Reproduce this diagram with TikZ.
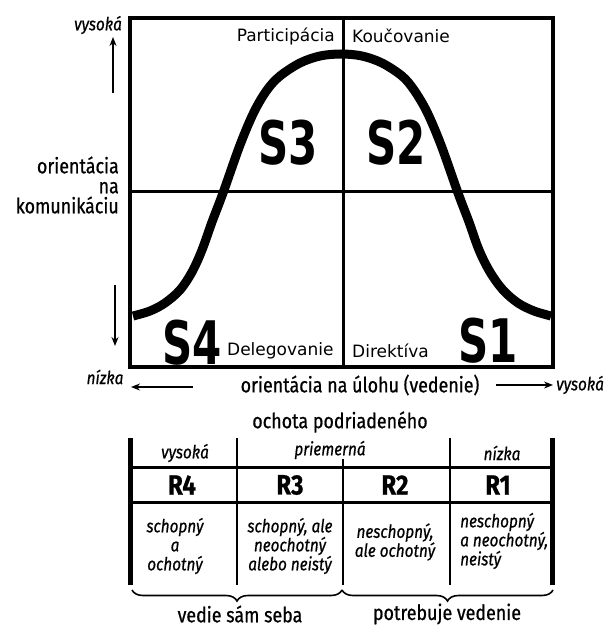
\documentclass[tikz,border=0pt]{standalone}
\usepackage{fontspec}
\setmainfont{Fira Sans}
\newfontfamily\lblfont[FakeStretch=0.85, FakeBold=0.7]{Fira Sans}
\newfontfamily\quadfont{DejaVu Sans}
\newfontfamily\sitfont[FakeStretch=0.7]{DejaVu Sans}
\usetikzlibrary{arrows.meta,positioning,decorations.pathreplacing}

\begin{document}
\begin{tikzpicture}[
    x=1pt, y=-1pt,
    axis/.style={font=\lblfont\fontsize{21}{20}\selectfont, inner sep=1pt},
    smalllbl/.style={font=\lblfont\itshape\fontsize{18}{19}\selectfont, inner sep=1pt},
    quad/.style={font=\quadfont\fontsize{17}{18}\selectfont, inner sep=1pt},
    sit/.style={font=\sitfont\bfseries\fontsize{60}{60}\selectfont, inner sep=0pt},
    rlbl/.style={font=\lblfont\bfseries\fontsize{28}{28}\selectfont, inner sep=0pt},
    desc/.style={font=\lblfont\itshape\fontsize{18}{19}\selectfont, align=center, inner sep=0pt},
    axarrow/.style={line width=1.4pt, -{Stealth[length=9pt,width=7pt]}},
    brc/.style={line width=1.6pt, decorate, decoration={brace, mirror, amplitude=11pt}},
    >=Stealth
]
    \useasboundingbox (0,0) rectangle (611,628);

    % quadrant grid
    \draw[line width=4pt] (130,18) rectangle (553,367);
    \draw[line width=3pt] (343,18) -- (343,367);
    \draw[line width=3pt] (130,192) -- (553,192);

    % bell curve
    \draw[line width=9pt, line join=round] plot[smooth, tension=0.55] coordinates {
        (133,316) (150,311) (165,303) (180,290) (192,272) (202,250) (212,222)
        (223,193) (240,145) (254,112) (267,90) (280,76) (300,63) (320,56) (341,54)
        (362,56) (382,63) (402,76) (414,90) (427,112) (441,145) (458,193)
        (469,222) (479,250) (490,272) (503,290) (518,303) (534,311) (551,316)};

    % styles in quadrants
    \node[sit] (s3) at (288,143) {S3};
    \node[sit] (s2) at (396,143) {S2};
    \node[sit] (s4) at (192,343) {S4};
    \node[sit] (s1) at (488,341) {S1};
    \node[quad, anchor=east] (part) at (336,36) {Participácia};
    \node[quad, anchor=west] (kouc) at (351,36) {Koučovanie};
    \node[quad, anchor=west] (deleg) at (226,351) {Delegovanie};
    \node[quad, anchor=west] (direk) at (351,351) {Direktíva};

    % axes
    \node[smalllbl] (yhi) at (98,25) {vysoká};
    \node[axis, align=right, anchor=east] (ylbl) at (120,185) {orientácia\\na\\komunikáciu};
    \node[smalllbl] (ylo) at (105,377) {nízka};
    \node[axis] (xlbl) at (360,385) {orientácia na úlohu (vedenie)};
    \node[smalllbl, anchor=west] (xhi) at (555,385) {vysoká};
    \coordinate (upa) at (113,93);
    \coordinate (upb) at (113,37);
    \coordinate (dna) at (115,285);
    \coordinate (dnb) at (115,346);
    \coordinate (lfa) at (193,387);
    \coordinate (lfb) at (131,387);
    \coordinate (rta) at (496,385);
    \coordinate (rtb) at (553,385);
    \draw[axarrow] (upa) -- (upb);
    \draw[axarrow] (dna) -- (dnb);
    \draw[axarrow] (lfa) -- (lfb);
    \draw[axarrow] (rta) -- (rtb);

    % readiness table
    \node[axis] (ready) at (340,422) {ochota podriadeného};
    \draw[line width=5pt] (130,438) -- (130,585);
    \draw[line width=5pt] (552,438) -- (552,585);
    \draw[line width=3pt] (130,467) -- (552,467);
    \draw[line width=3pt] (130,502) -- (552,502);
    \draw[line width=2pt] (237,438) -- (237,585);
    \draw[line width=2pt] (450,438) -- (450,585);
    \draw[line width=2pt] (343,459) -- (343,585);

    \node[smalllbl] (hhi) at (185,453) {vysoká};
    \node[smalllbl] (hmid) at (330,450) {priemerná};
    \node[smalllbl] (hlo) at (502,453) {nízka};

    \node[rlbl] (r4) at (182,485) {R4};
    \node[rlbl] (r3) at (290,485) {R3};
    \node[rlbl] (r2) at (395,485) {R2};
    \node[rlbl] (r1) at (498,485) {R1};

    \node[desc] (d4) at (175,546) {schopný\\a\\ochotný};
    \node[desc] (d3) at (290,546) {schopný, ale\\neochotný\\alebo neistý};
    \node[desc] (d2) at (395,542) {neschopný,\\ale ochotný};
    \node[desc, align=left, anchor=west] (d1) at (460,541) {neschopný\\a neochotný,\\neistý};

    % braces
    \coordinate (ba) at (132,590);
    \coordinate (bb) at (342,590);
    \coordinate (bc) at (553,590);
    \draw[brc] (ba) -- (bb);
    \draw[brc] (bb) -- (bc);
    \node[axis] (self) at (240,614) {vedie sám seba};
    \node[axis] (need) at (447,614) {potrebuje vedenie};
\end{tikzpicture}
\end{document}
